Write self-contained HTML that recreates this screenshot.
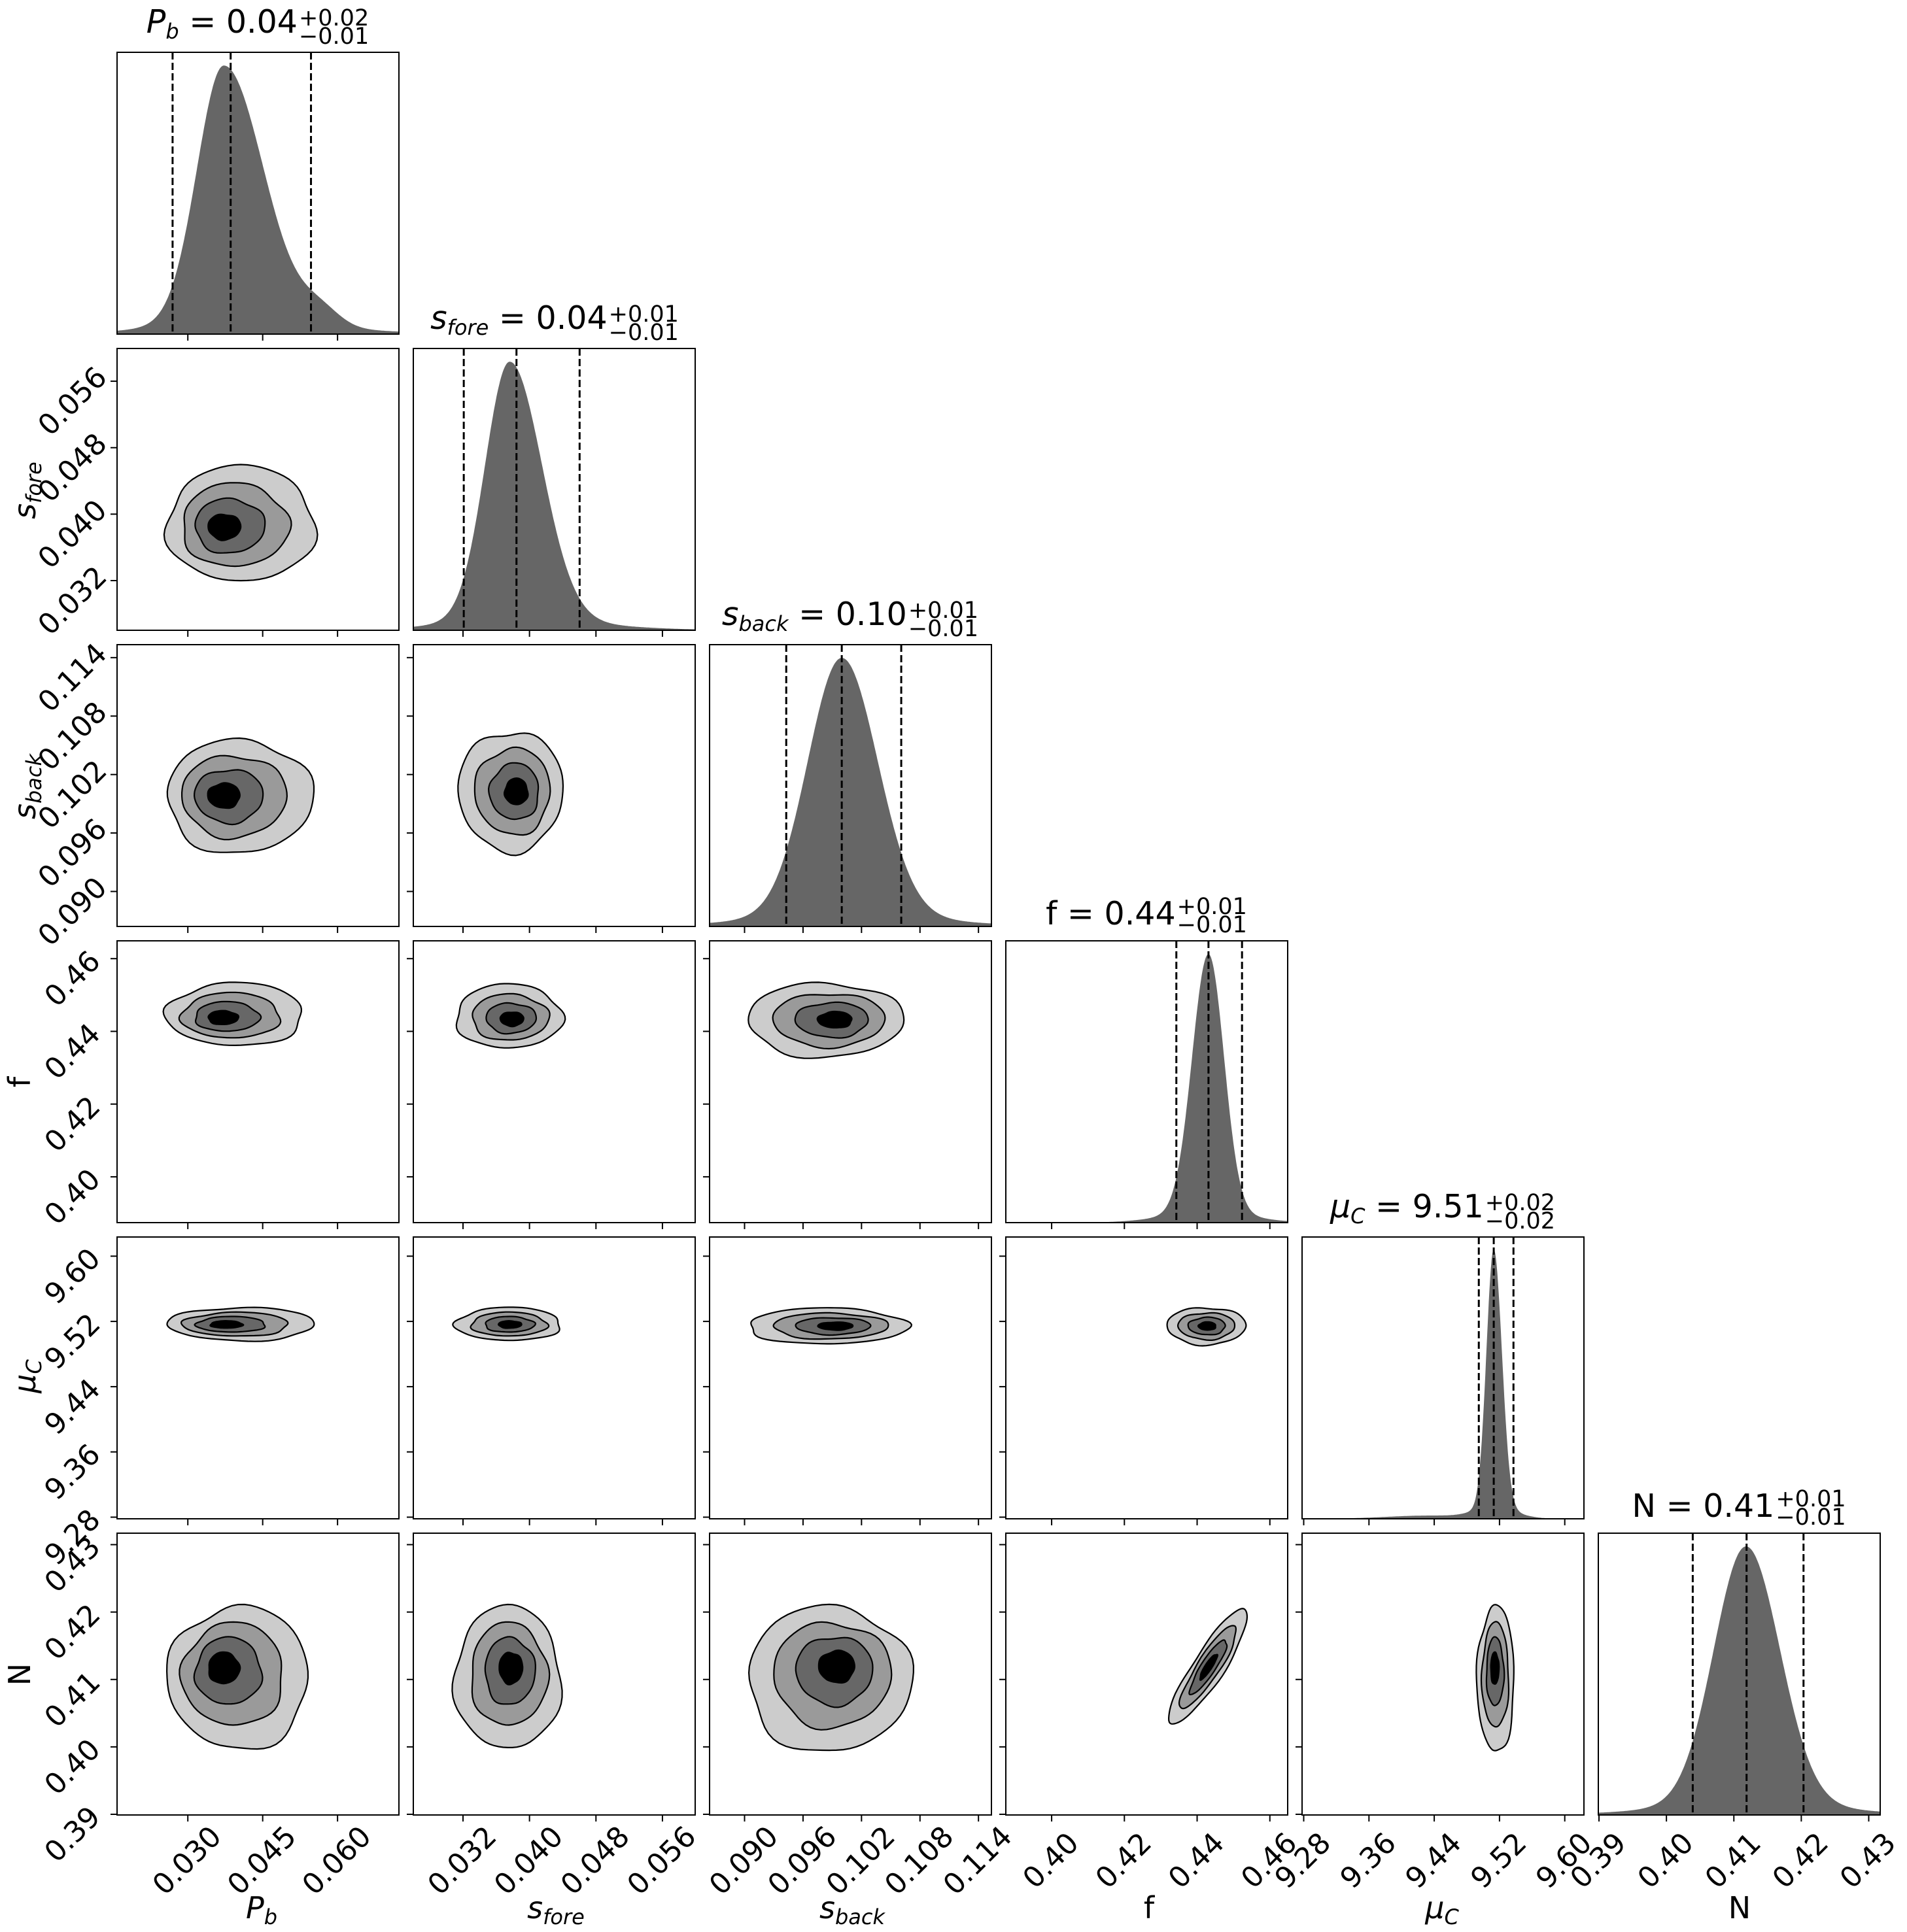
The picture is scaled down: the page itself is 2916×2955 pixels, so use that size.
<!DOCTYPE html>
<html><head><meta charset="utf-8"><style>
html,body{margin:0;padding:0;background:#fff;}
#w{position:relative;width:2916px;height:2955px;overflow:hidden;font-family:"DejaVu Sans","Liberation Sans",sans-serif;color:#000;}
svg{position:absolute;left:0;top:0;}
.t{position:absolute;height:60px;display:flex;justify-content:center;align-items:flex-end;font-size:49px;white-space:nowrap;}
.t .m{line-height:48px;margin-bottom:7px;}
.t .st{display:flex;flex-direction:column;font-size:35px;line-height:28px;margin-left:2px;}
.sb{font-size:32px;position:relative;top:9px;font-style:italic;}
.xl{position:absolute;font-size:46px;white-space:nowrap;transform:translate(-50%,-50%);}
.yl{position:absolute;font-size:46px;white-space:nowrap;transform:translate(-50%,-50%) rotate(-90deg);}
</style></head><body><div id="w">
<svg id="s" width="2916" height="2955" xmlns="http://www.w3.org/2000/svg"></svg>
<div class="t" style="left:94px;width:600px;top:10px"><span class="m"><i>P</i><span class="sb">b</span> = 0.04</span><span class="st"><span>+0.02</span><span>−0.01</span></span></div>
<div class="t" style="left:548px;width:600px;top:463px"><span class="m"><i>s</i><span class="sb">fore</span> = 0.04</span><span class="st"><span>+0.01</span><span>−0.01</span></span></div>
<div class="t" style="left:1000px;width:600px;top:916px"><span class="m"><i>s</i><span class="sb">back</span> = 0.10</span><span class="st"><span>+0.01</span><span>−0.01</span></span></div>
<div class="t" style="left:1453px;width:600px;top:1369px"><span class="m">f = 0.44</span><span class="st"><span>+0.01</span><span>−0.01</span></span></div>
<div class="t" style="left:1906px;width:600px;top:1822px"><span class="m"><i>μ</i><span class="sb">C</span> = 9.51</span><span class="st"><span>+0.02</span><span>−0.02</span></span></div>
<div class="t" style="left:2359px;width:600px;top:2275px"><span class="m">N = 0.41</span><span class="st"><span>+0.01</span><span>−0.01</span></span></div>

<div class="xl" style="left:400px;top:2918px"><i>P</i><span class="sb">b</span></div>
<div class="xl" style="left:850px;top:2918px"><i>s</i><span class="sb">fore</span></div>
<div class="xl" style="left:1303px;top:2918px"><i>s</i><span class="sb">back</span></div>
<div class="xl" style="left:1757px;top:2918px">f</div>
<div class="xl" style="left:2205px;top:2918px"><i>μ</i><span class="sb">C</span></div>
<div class="xl" style="left:2660px;top:2918px">N</div>

<div class="yl" style="left:38px;top:750px"><i>s</i><span class="sb">fore</span></div>
<div class="yl" style="left:38px;top:1203px"><i>s</i><span class="sb">back</span></div>
<div class="yl" style="left:30px;top:1655px">f</div>
<div class="yl" style="left:38px;top:2105px"><i>μ</i><span class="sb">C</span></div>
<div class="yl" style="left:30px;top:2561px">N</div>
</div>
<script>
const L=179,T=80,S=431,P=453;
let out="";
const params=[
 {r:[0.01582,0.0723],t:[0.030,0.045,0.060],d:3,h:[.379,.095,.14],q:[.197,.403,.688]},
 {r:[0.02602,0.05994],t:[0.032,0.040,0.048,0.056],d:3,h:[.342,.087,.114],q:[.179,.366,.59]},
 {r:[0.08641,0.11533],t:[0.090,0.096,0.102,0.108,0.114],d:3,h:[.469,.12,.127],q:[.272,.469,.68]},
 {r:[0.3874,0.4649],t:[0.40,0.42,0.44,0.46],d:2,h:[.719,.058,.055],q:[.605,.719,.838]},
 {r:[9.278,9.6235],t:[9.28,9.36,9.44,9.52,9.60],d:2,h:[.68,.026,.029],q:[.627,.68,.75]},
 {r:[0.3899,0.4317],t:[0.39,0.40,0.41,0.42,0.43],d:2,h:[.524,.114,.12],q:[.335,.526,.728]}
];
function fr(p,v){return (v-p.r[0])/(p.r[1]-p.r[0]);}
const C=[
 [1,0,.439,.623,.263,.206,.364,.636,0],
 [2,0,.434,.539,.259,.202,.364,.535,0],
 [2,1,.346,.52,.186,.213,.371,.522,0],
 [3,0,.419,.261,.243,.112,.364,.276,0],
 [3,1,.339,.268,.189,.114,.353,.28,0],
 [3,2,.411,.281,.276,.132,.455,.28,0],
 [4,0,.441,.309,.261,.059,.373,.311,0],
 [4,1,.338,.309,.187,.059,.344,.311,0],
 [4,2,.418,.316,.283,.064,.455,.316,0],
 [4,3,.711,.316,.14,.066,.716,.316,0],
 [5,0,.43,.513,.25,.254,.364,.469,0],
 [5,1,.335,.513,.189,.254,.349,.469,0],
 [5,2,.425,.518,.29,.259,.459,.461,0],
 [5,3,.719,.474,.241,.055,.719,.474,-57],
 [5,4,.687,.518,.066,.259,.683,.469,0]
];
const fills=["#cccccc","#9a9a9a","#676767","#000000"];
const ks=[1,.72,.47,.22];
C.forEach((c,i)=>{
 const [r,col,cx,cy,rx,ry,kx,ky,rot]=c;
 const x0=L+col*P,y0=T+r*P;
 ks.forEach((k,j)=>{
  const mx=kx+(cx-kx)*k,my=ky+(cy-ky)*k;
  const ax=rx*k*S,ay=ry*k*S;
  let d="";
  const ph=i*1.7+j*0.9;
  for(let a=0;a<=72;a++){
   const th=a/72*2*Math.PI;
   const w=1+0.035*Math.sin(3*th+ph)+0.025*Math.sin(5*th+ph*2)+0.015*Math.sin(7*th+ph*3);
   let ex=Math.cos(th)*ax*w, ey=Math.sin(th)*ay*w;
   if(rot){const R=rot*Math.PI/180;const ex2=ex*Math.cos(R)-ey*Math.sin(R);ey=ex*Math.sin(R)+ey*Math.cos(R);ex=ex2;}
   const X=x0+mx*S+ex,Y=y0+my*S+ey;
   d+=(a?"L":"M")+X.toFixed(1)+" "+Y.toFixed(1);
  }
  out+=`<path d="${d}Z" fill="${fills[j]}" stroke="#000" stroke-width="2.2"/>`;
 });
});
params.forEach((p,i)=>{
 const x0=L+i*P,y0=T+i*P;
 const [mu,sl,sr]=p.h;
 let d=`M${x0} ${y0+S}`;
 for(let a=0;a<=400;a++){
  const f=a/400;const s=f<mu?sl:sr;
  const z=(f-mu)/s;
  let h=Math.exp(-0.5*z*z)*0.96+0.04*Math.exp(-0.5*(z/2.6)**2);
  if(i==0) h+=0.06*Math.exp(-0.5*((f-.72)/.07)**2);
  if(i==4) h+=0.012*Math.exp(-0.5*((f-.45)/.15)**2);
  h=Math.min(h,1.0)*0.953;
  d+=`L${(x0+f*S).toFixed(1)} ${(y0+S-h*S).toFixed(1)}`;
 }
 d+=`L${x0+S} ${y0+S}Z`;
 out+=`<path d="${d}" fill="#666666"/>`;
 p.q.forEach(q=>{const X=x0+q*S;out+=`<line x1="${X}" y1="${y0}" x2="${X}" y2="${y0+S}" stroke="#000" stroke-width="3" stroke-dasharray="11,5"/>`;});
});
const TF='font-size="44" text-anchor="middle" dy="0.36em" font-family="DejaVu Sans,Liberation Sans,sans-serif"';
for(let r=0;r<6;r++)for(let c=0;c<=r;c++){
 const x0=L+c*P,y0=T+r*P;
 out+=`<rect x="${x0}" y="${y0}" width="${S}" height="${S}" fill="none" stroke="#000" stroke-width="2"/>`;
 params[c].t.forEach(v=>{const X=x0+fr(params[c],v)*S;out+=`<line x1="${X}" y1="${y0+S}" x2="${X}" y2="${y0+S+10}" stroke="#000" stroke-width="2"/>`;
  if(r==5){out+=`<g transform="translate(${X-2},${y0+S+69}) rotate(-45)"><text x="0" y="0" ${TF}>${v.toFixed(params[c].d)}</text></g>`;}
 });
 if(r!=c){params[r].t.forEach(v=>{const Y=y0+S-fr(params[r],v)*S;out+=`<line x1="${x0-10}" y1="${Y}" x2="${x0}" y2="${Y}" stroke="#000" stroke-width="2"/>`;
  if(c==0){out+=`<g transform="translate(${x0-69},${Y+30}) rotate(-45)"><text x="0" y="0" ${TF}>${v.toFixed(params[r].d)}</text></g>`;}
 });}
}
document.getElementById("s").innerHTML=out;
</script>
</body></html>
